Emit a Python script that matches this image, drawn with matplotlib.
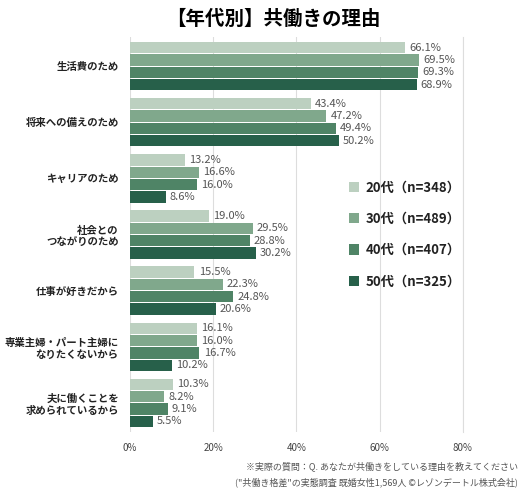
import numpy as np
import matplotlib
matplotlib.use('Agg')
from matplotlib import pyplot as plt

plt.rcParams['font.family'] = ['Noto Sans CJK JP', 'DejaVu Sans']

categories = ['生活費のため', '将来への備えのため', 'キャリアのため', '社会との\nつながりのため',
              '仕事が好きだから', '専業主婦・パート主婦に\nなりたくないから', '夫に働くことを\n求められているから']
series = ['20代（n=348）', '30代（n=489）', '40代（n=407）', '50代（n=325）']
values = [
    [66.1, 43.4, 13.2, 19.0, 15.5, 16.1, 10.3],
    [69.5, 47.2, 16.6, 29.5, 22.3, 16.0, 8.2],
    [69.3, 49.4, 16.0, 28.8, 24.8, 16.7, 9.1],
    [68.9, 50.2, 8.6, 30.2, 20.6, 10.2, 5.5],
]
colors = ['#bcd0c0', '#80a88c', '#4f8466', '#27604a']

fig = plt.figure(figsize=(5.26, 5.0), dpi=100)
ax = fig.add_axes([0.247, 0.136, 0.633, 0.79])

h = 0.22
y = np.arange(len(categories))
for i, (vals, c) in enumerate(zip(values, colors)):
    pos = y + (i - 1.5) * h
    ax.barh(pos, vals, height=h * 0.92, color=c, label=series[i], zorder=3)
    for p, v in zip(pos, vals):
        ax.text(v + 1.0, p, f'{v}%', va='center', ha='left', fontsize=8, color='#555555')

ax.set_ylim(len(categories) - 0.5 + 0.02, -0.52)
ax.set_xlim(0, 80)
ax.set_xticks([0, 20, 40, 60, 80])
ax.set_xticklabels(['0%', '20%', '40%', '60%', '80%'], fontsize=7, color='#444444')
ax.set_yticks(y)
ax.set_yticklabels(categories, fontsize=7.5, fontweight='bold', color='#222222', linespacing=1.3)
ax.tick_params(length=0, pad=8)
ax.grid(axis='x', color='#dddddd', lw=0.8, zorder=0)
for s in ['top', 'left', 'bottom']:
    ax.spines[s].set_visible(False)
ax.spines['right'].set_color('#dddddd')

leg = ax.legend(loc='center right', bbox_to_anchor=(1.03, 0.5), frameon=False,
                fontsize=9.5, handlelength=0.8, handleheight=0.8, labelspacing=1.3,
                handletextpad=0.5)
for t in leg.get_texts():
    t.set_fontweight('bold')
    t.set_color('#222222')

fig.text(0.52, 0.962, '【年代別】共働きの理由', ha='center', va='center', fontsize=14, fontweight='bold')
fig.text(0.985, 0.068, '※実際の質問：Q. あなたが共働きをしている理由を教えてください',
         ha='right', va='center', fontsize=6.5, color='#555555')
fig.text(0.985, 0.035, '("共働き格差"の実態調査 既婚女性1,569人 ©レゾンデートル株式会社)',
         ha='right', va='center', fontsize=6.5, color='#555555')

fig.savefig('out.png', dpi=100, facecolor='white')
